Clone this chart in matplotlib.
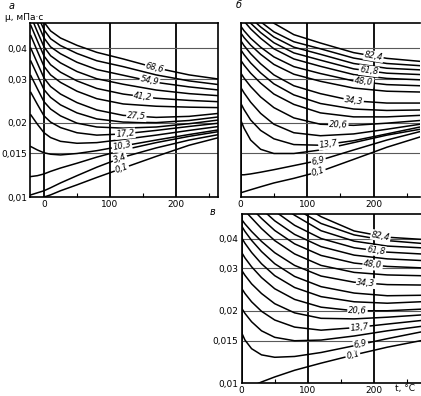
import numpy as np
import matplotlib
matplotlib.use('Agg')
import matplotlib.pyplot as plt
from matplotlib.ticker import FixedLocator, FixedFormatter, NullLocator

# temperature grid, deg C
t_a = [-20, -10, 0, 10, 25, 50, 80, 120, 170, 220, 265]
t_bc = [0, 5, 15, 30, 50, 80, 120, 170, 220, 270]

# viscosity, mPa*s, one row per isobar (lowest pressure first)
mu_a = [
    [0.0094, 0.0097, 0.0100, 0.0102, 0.0106, 0.0112, 0.0120, 0.0131, 0.0146, 0.0162, 0.0174],
    [0.0102, 0.0104, 0.0106, 0.0109, 0.0114, 0.0122, 0.0132, 0.0145, 0.0158, 0.0170, 0.0179],
    [0.0121, 0.0122, 0.0124, 0.0127, 0.0131, 0.0137, 0.0145, 0.0155, 0.0166, 0.0176, 0.0184],
    [0.0160, 0.0155, 0.0151, 0.0149, 0.0148, 0.0150, 0.0154, 0.0161, 0.0170, 0.0179, 0.0187],
    [0.0215, 0.0197, 0.0182, 0.0174, 0.0168, 0.0165, 0.0166, 0.0171, 0.0178, 0.0186, 0.0193],
    [0.0265, 0.0237, 0.0213, 0.0201, 0.0191, 0.0182, 0.0178, 0.0180, 0.0186, 0.0193, 0.0199],
    [0.0310, 0.0274, 0.0243, 0.0227, 0.0213, 0.0199, 0.0192, 0.0190, 0.0192, 0.0198, 0.0205],
    [0.0355, 0.0311, 0.0272, 0.0253, 0.0236, 0.0219, 0.0207, 0.0201, 0.0200, 0.0204, 0.0211],
    [0.0400, 0.0348, 0.0303, 0.0280, 0.0261, 0.0241, 0.0225, 0.0214, 0.0210, 0.0212, 0.0218],
    [0.0450, 0.0389, 0.0338, 0.0312, 0.0291, 0.0268, 0.0250, 0.0238, 0.0233, 0.0231, 0.0230],
    [0.0495, 0.0428, 0.0372, 0.0343, 0.0320, 0.0295, 0.0275, 0.0261, 0.0251, 0.0246, 0.0243],
    [0.0539, 0.0466, 0.0405, 0.0373, 0.0349, 0.0322, 0.0301, 0.0286, 0.0271, 0.0262, 0.0257],
    [0.0585, 0.0506, 0.0440, 0.0405, 0.0380, 0.0351, 0.0328, 0.0311, 0.0291, 0.0279, 0.0271],
    [0.0632, 0.0546, 0.0475, 0.0437, 0.0410, 0.0381, 0.0356, 0.0337, 0.0312, 0.0295, 0.0285],
    [0.0680, 0.0590, 0.0510, 0.0470, 0.0440, 0.0411, 0.0385, 0.0362, 0.0333, 0.0312, 0.0300],
]

mu_b = [
    [0.0104, 0.0105, 0.0107, 0.0110, 0.0114, 0.0119, 0.0127, 0.0142, 0.0159, 0.0175],
    [0.0123, 0.0123, 0.0124, 0.0126, 0.0129, 0.0134, 0.0141, 0.0155, 0.0170, 0.0184],
    [0.0205, 0.0190, 0.0170, 0.0156, 0.0150, 0.0150, 0.0155, 0.0166, 0.0178, 0.0188],
    [0.0240, 0.0226, 0.0205, 0.0186, 0.0172, 0.0163, 0.0162, 0.0169, 0.0180, 0.0192],
    [0.0278, 0.0264, 0.0242, 0.0218, 0.0197, 0.0182, 0.0177, 0.0180, 0.0188, 0.0197],
    [0.0318, 0.0303, 0.0280, 0.0254, 0.0230, 0.0209, 0.0197, 0.0195, 0.0199, 0.0204],
    [0.0358, 0.0342, 0.0317, 0.0289, 0.0261, 0.0237, 0.0219, 0.0211, 0.0211, 0.0214],
    [0.0395, 0.0377, 0.0349, 0.0318, 0.0287, 0.0259, 0.0239, 0.0227, 0.0224, 0.0225],
    [0.0430, 0.0410, 0.0380, 0.0346, 0.0312, 0.0282, 0.0262, 0.0245, 0.0240, 0.0240],
    [0.0462, 0.0442, 0.0412, 0.0378, 0.0344, 0.0314, 0.0294, 0.0276, 0.0268, 0.0266],
    [0.0492, 0.0471, 0.0439, 0.0404, 0.0369, 0.0337, 0.0316, 0.0295, 0.0285, 0.0282],
    [0.0539, 0.0515, 0.0479, 0.0439, 0.0398, 0.0362, 0.0338, 0.0313, 0.0302, 0.0298],
    [0.0568, 0.0543, 0.0505, 0.0463, 0.0421, 0.0383, 0.0358, 0.0330, 0.0317, 0.0313],
    [0.0597, 0.0571, 0.0531, 0.0488, 0.0444, 0.0404, 0.0378, 0.0347, 0.0332, 0.0327],
    [0.0626, 0.0599, 0.0558, 0.0512, 0.0466, 0.0425, 0.0398, 0.0365, 0.0347, 0.0340],
    [0.0703, 0.0669, 0.0618, 0.0562, 0.0505, 0.0454, 0.0420, 0.0384, 0.0364, 0.0354],
]

mu_c = [
    [0.0093, 0.0094, 0.0097, 0.0101, 0.0106, 0.0113, 0.0121, 0.0131, 0.0141, 0.0150],
    [0.0162, 0.0151, 0.0139, 0.0131, 0.0128, 0.0129, 0.0134, 0.0143, 0.0153, 0.0163],
    [0.0205, 0.0195, 0.0180, 0.0165, 0.0155, 0.0150, 0.0151, 0.0157, 0.0165, 0.0172],
    [0.0248, 0.0236, 0.0218, 0.0199, 0.0183, 0.0171, 0.0166, 0.0170, 0.0176, 0.0182],
    [0.0295, 0.0281, 0.0259, 0.0236, 0.0214, 0.0196, 0.0186, 0.0185, 0.0188, 0.0192],
    [0.0350, 0.0332, 0.0305, 0.0275, 0.0247, 0.0223, 0.0207, 0.0200, 0.0200, 0.0203],
    [0.0403, 0.0382, 0.0350, 0.0314, 0.0280, 0.0250, 0.0229, 0.0218, 0.0215, 0.0218],
    [0.0451, 0.0428, 0.0393, 0.0353, 0.0314, 0.0278, 0.0252, 0.0237, 0.0231, 0.0232],
    [0.0480, 0.0460, 0.0428, 0.0389, 0.0349, 0.0309, 0.0279, 0.0263, 0.0257, 0.0256],
    [0.0540, 0.0521, 0.0487, 0.0440, 0.0392, 0.0345, 0.0309, 0.0289, 0.0282, 0.0280],
    [0.0590, 0.0570, 0.0534, 0.0485, 0.0432, 0.0380, 0.0340, 0.0316, 0.0306, 0.0302],
    [0.0640, 0.0620, 0.0583, 0.0531, 0.0474, 0.0416, 0.0370, 0.0341, 0.0329, 0.0324],
    [0.0700, 0.0676, 0.0636, 0.0581, 0.0520, 0.0454, 0.0400, 0.0366, 0.0351, 0.0345],
    [0.0760, 0.0735, 0.0692, 0.0633, 0.0568, 0.0500, 0.0431, 0.0390, 0.0372, 0.0366],
    [0.0820, 0.0793, 0.0747, 0.0684, 0.0614, 0.0535, 0.0462, 0.0414, 0.0392, 0.0382],
    [0.0880, 0.0851, 0.0802, 0.0735, 0.0660, 0.0575, 0.0493, 0.0430, 0.0405, 0.0397],
]

# isobar labels, MPa ('' = unlabelled curve)
lab_a = ['0,1', '3,4', '', '10,3', '', '17,2', '', '', '27,5', '', '41,2', '', '54,9', '', '68,6']
lab_bc = ['0,1', '6,9', '', '13,7', '', '20,6', '', '', '34,3', '', '48,0', '', '61,8', '', '', '82,4']
# where along t each label sits
lab_t_a = [118, 115, 0, 118, 0, 123, 0, 0, 140, 0, 150, 0, 160, 0, 168]
lab_t_b = [117, 117, 0, 132, 0, 147, 0, 0, 170, 0, 185, 0, 193, 0, 0, 200]
lab_t_c = [168, 180, 0, 178, 0, 175, 0, 0, 188, 0, 198, 0, 203, 0, 0, 210]

y_ticks = [0.01, 0.015, 0.02, 0.03, 0.04]
y_tick_labels = ['0,01', '0,015', '0,02', '0,03', '0,04']
x_ticks = [0, 100, 200]


def setup(ax, xlim, ylabels=True, right=True):
    ax.set_yscale('log')
    ax.set_xlim(*xlim)
    ax.set_ylim(0.01, 0.0506)
    ax.yaxis.set_major_locator(FixedLocator(y_ticks))
    ax.yaxis.set_major_formatter(FixedFormatter(y_tick_labels))
    ax.yaxis.set_minor_locator(NullLocator())
    ax.xaxis.set_major_locator(FixedLocator(x_ticks))
    ax.xaxis.set_minor_locator(FixedLocator([50, 150, 250]))
    ax.tick_params(which='major', length=0, labelsize=6.5, pad=2.5, labelleft=ylabels)
    ax.tick_params(axis='y', which='minor', length=0)
    ax.tick_params(axis='x', which='minor', direction='in', length=3, width=0.8)
    ax.set_axisbelow(True)
    ax.xaxis.grid(True, color='k', lw=1.3)
    ax.yaxis.grid(True, color='0.35', lw=0.8)
    for s in ax.spines.values():
        s.set_linewidth(1.2)
    ax.spines['right'].set_visible(right)


def draw(ax, t, curves, labels, lab_t):
    t = np.array(t, dtype=float)
    for mu in curves:
        ax.plot(t, mu, color='k', lw=1.1)
    for mu, txt, tl in zip(curves, labels, lab_t):
        if not txt:
            continue
        lm = np.log10(mu)
        y = 10 ** np.interp(tl, t, lm)
        p1 = ax.transData.transform((tl - 10, 10 ** np.interp(tl - 10, t, lm)))
        p2 = ax.transData.transform((tl + 10, 10 ** np.interp(tl + 10, t, lm)))
        ang = np.degrees(np.arctan2(p2[1] - p1[1], p2[0] - p1[0]))
        ax.text(tl, y, txt, rotation=ang, rotation_mode='anchor', ha='center', va='center',
                fontsize=6, style='italic', zorder=4,
                bbox=dict(facecolor='white', edgecolor='none', pad=0.6))


fig = plt.figure(figsize=(4.21, 3.96), dpi=100)
ax_a = fig.add_axes([0.0724, 0.5025, 0.4466, 0.4394])
ax_b = fig.add_axes([0.5717, 0.5025, 0.4260, 0.4394])
ax_c = fig.add_axes([0.5740, 0.0328, 0.4260, 0.4268])

setup(ax_a, (-20.5, 264.5))
setup(ax_b, (0, 270), ylabels=False, right=False)
setup(ax_c, (0, 271), right=False)

draw(ax_a, t_a, mu_a, lab_a, lab_t_a)
draw(ax_b, t_bc, mu_b, lab_bc, lab_t_b)
draw(ax_c, t_bc, mu_c, lab_bc, lab_t_c)

fig.text(0.02, 0.986, 'а', fontsize=7, style='italic', ha='left', va='center')
fig.text(0.012, 0.957, 'μ, мПа·с', fontsize=6.5, ha='left', va='center')
fig.text(0.561, 0.988, 'б', fontsize=7, style='italic', ha='left', va='center')
fig.text(0.499, 0.465, 'в', fontsize=7, style='italic', ha='left', va='center')
fig.text(0.938, 0.019, 't, °C', fontsize=6.5, ha='left', va='center')

fig.savefig('out.png', dpi=100)
